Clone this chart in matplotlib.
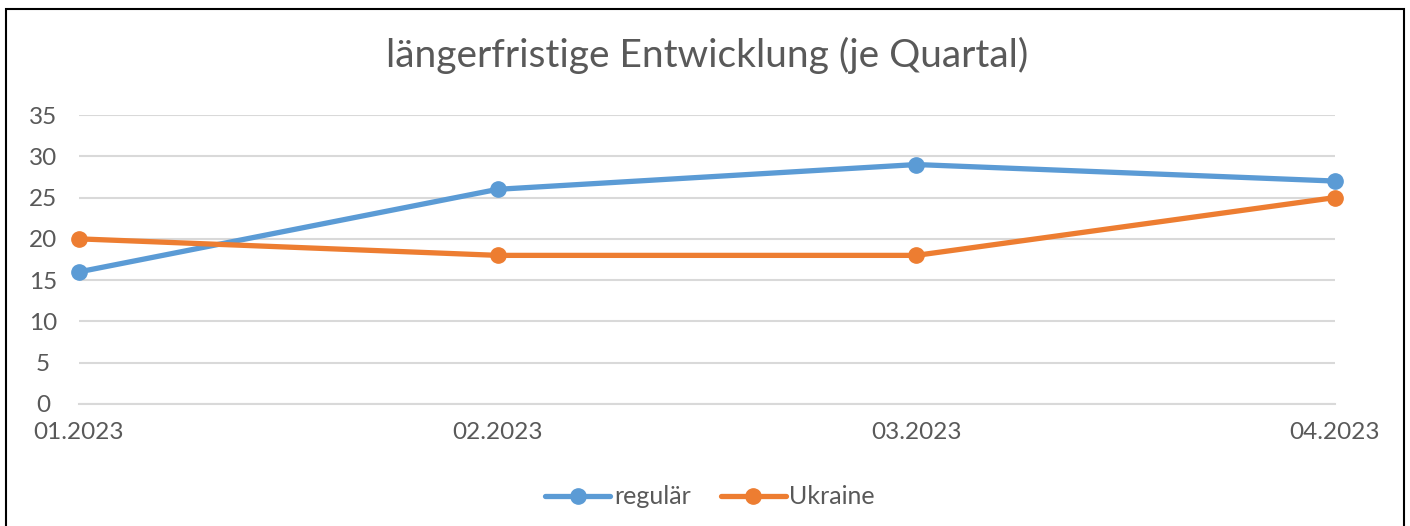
import matplotlib
matplotlib.use("Agg")
import matplotlib.pyplot as plt
from matplotlib.patches import Rectangle

categories = ["01.2023", "02.2023", "03.2023", "04.2023"]
regular = [16, 26, 29, 27]
ukraine = [20, 18, 18, 25]
yticks = [0, 5, 10, 15, 20, 25, 30, 35]
title = "längerfristige Entwicklung (je Quartal)"

plt.rcParams['font.family'] = ['Lato', 'DejaVu Sans']
TXT = "#595959"
BLUE = "#5B9BD5"
ORANGE = "#ED7D31"

fig = plt.figure(figsize=(14.10, 5.26), dpi=100)
ax = fig.add_axes([79/1410, 1-404/526, (1335-79)/1410, (404-115)/526])

x = list(range(len(categories)))
ax.plot(x, regular, color=BLUE, lw=3.8, marker='o', ms=11, label="regulär",
        solid_capstyle='round', zorder=3, clip_on=False)
ax.plot(x, ukraine, color=ORANGE, lw=3.8, marker='o', ms=11, label="Ukraine",
        solid_capstyle='round', zorder=3, clip_on=False)

ax.set_xlim(0, len(categories)-1)
ax.set_ylim(0, 35)
ax.set_yticks(yticks)
ax.set_xticks(x)
ax.set_xticklabels(categories)
ax.grid(axis='y', color="#D9D9D9", lw=1.5)
ax.set_axisbelow(True)
for s in ['top', 'right', 'left']:
    ax.spines[s].set_visible(False)
ax.spines['bottom'].set_color("#D9D9D9")
ax.spines['bottom'].set_linewidth(1.5)
ax.tick_params(length=0, labelsize=17.5, labelcolor=TXT)
ax.tick_params(axis='y', pad=26)
ax.tick_params(axis='x', pad=13)
for lab in ax.get_yticklabels():
    lab.set_horizontalalignment('center')

fig.text(707/1410, 1-55/526, title, ha='center', va='center', fontsize=28, color=TXT)

leg = fig.legend(loc='center', bbox_to_anchor=(710/1410, 1-497/526), ncol=2, frameon=False,
                 fontsize=18, labelcolor=TXT, handlelength=2.6, handletextpad=0.15,
                 columnspacing=1.2)

fig.add_artist(Rectangle((6/1410, -0.1), (1404-6)/1410, 1.1-9/526, transform=fig.transFigure,
                         fill=False, edgecolor='black', lw=1.5, clip_on=False))

fig.savefig("out.png", dpi=100, facecolor='white')
